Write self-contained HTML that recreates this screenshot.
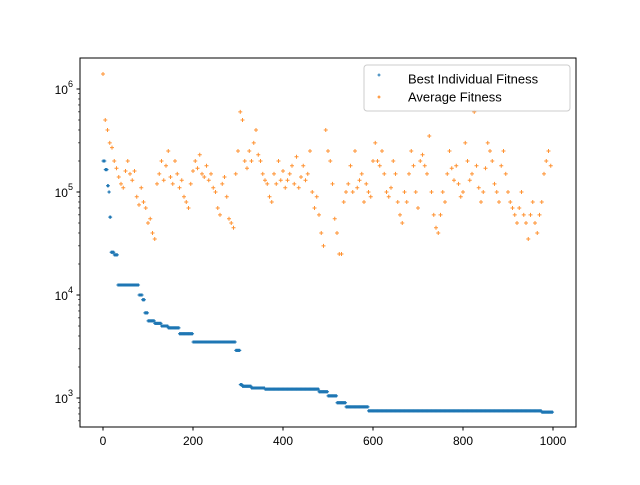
<!DOCTYPE html>
<html><head><meta charset="utf-8"><style>
body{margin:0;background:#fff}
svg text{font-family:"Liberation Sans","DejaVu Sans",sans-serif}
</style></head><body>
<svg id="chart" width="640" height="480" viewBox="0 0 640 480" xmlns="http://www.w3.org/2000/svg">
<rect width="640" height="480" fill="#fff"/>
<g id="marks"></g>
<g id="axes"></g>
<g id="legend">
<rect x="364" y="65" width="206" height="46" rx="3" fill="#fff" fill-opacity="0.8" stroke="#ccc"/>
<path d="M377.5,75h3M379,73.5v3" stroke="#1f77b4"/>
<text x="408" y="80" font-size="13" style="fill:#000" dominant-baseline="middle">Best Individual Fitness</text>
<path d="M377.5,97h3M379,95.5v3" stroke="#ff7f0e"/>
<text x="408" y="98" font-size="13" style="fill:#000" dominant-baseline="middle">Average Fitness</text>
</g>
</svg>
<script>
const stepStarts=[0,5,10,13,15,18,25,33,80,88,93,100,115,130,145,170,200,295,305,310,330,360,480,500,520,540,590,975];
const stepValues=[200000,165000,115000,100000,57000,26000,24500,12500,10000,9000,6700,5600,5300,5000,4800,4200,3500,2900,1350,1300,1250,1220,1150,1050,900,820,750,730];
const avgStep=5;
const avgValues=[1400,500,400,300,270,200,170,140,120,110,160,200,150,130,160,90,75,110,80,70,50,55,40,35,120,150,200,130,180,250,140,120,200,150,110,130,90,80,70,120,160,200,170,230,150,140,180,130,150,110,100,70,60,120,140,90,55,50,45,150,250,600,500,200,170,250,200,300,400,230,200,150,130,120,90,80,150,120,200,130,160,110,130,150,180,120,220,110,140,180,130,150,250,100,70,90,60,40,30,400,250,200,120,55,40,25,25,80,100,120,180,100,250,110,130,150,80,120,100,90,200,300,200,180,250,150,100,90,110,200,150,80,60,50,100,80,150,250,180,100,70,200,230,180,150,350,100,60,45,40,60,100,80,150,250,170,130,180,120,90,100,300,200,130,150,600,180,110,80,100,170,300,250,200,120,100,80,180,250,150,100,80,70,60,50,70,100,60,50,35,60,80,50,40,60,80,150,200,250,180];
const xTicks=[0,200,400,600,800,1000];
const yTickExps=[3,4,5,6];
const NS='http://www.w3.org/2000/svg';
const L=80,R=576,T=58,B=427;
const X=v=>103+0.45*v;
const Y=v=>398-103*(Math.log10(v)-3);
const marks=document.getElementById('marks'),axes=document.getElementById('axes');
function mk(tag,attrs,parent){const e=document.createElementNS(NS,tag);for(const k in attrs)e.setAttribute(k,attrs[k]);parent.appendChild(e);return e;}
function plus(x,y,c,g,s){return mk('path',{d:`M${x-s},${y}h${2*s}M${x},${y-s}v${2*s}`,stroke:c,'stroke-width':1},g);}
const gb=mk('g',{},marks);


for(let i=0;i<stepStarts.length;i++){
  const end=i+1<stepStarts.length?stepStarts[i+1]:1000;
  for(let g=stepStarts[i];g<end;g++){
    const p=plus(X(g),Y(stepValues[i]),'#1f77b4',gb,1.5);
    
    
  }
}
const ga=mk('g',{},marks);


avgValues.forEach((v,i)=>{
  const p=plus(X(i*avgStep),Y(v*1000),'#ff7f0e',ga,2);
  p.setAttribute('opacity','0.85');
  
  
});
const fr=mk('rect',{x:L,y:T,width:R-L,height:B-T,fill:'none',stroke:'#000','stroke-width':1},axes);


xTicks.forEach(t=>{
  const x=X(t);
  mk('line',{x1:x,x2:x,y1:B,y2:B+3.5,stroke:'#000'},axes);
  const tx=mk('text',{x:x,y:B+18,'font-size':12,'text-anchor':'middle',style:'fill:#000'},axes);
  tx.textContent=t;
  
  
});
yTickExps.forEach(e=>{
  const y=Y(Math.pow(10,e));
  mk('line',{x1:L-3.5,x2:L,y1:y,y2:y,stroke:'#000'},axes);
  const tx=mk('text',{x:L-7,y:y+5,'font-size':12,'text-anchor':'end',style:'fill:#000'},axes);
  tx.innerHTML='10<tspan dy="-7" font-size="9">'+e+'</tspan>';
  
  
});
for(let e=2;e<=6;e++)for(let m=2;m<=9;m++){
  const y=Y(m*Math.pow(10,e));
  if(y<T||y>B)continue;
  mk('line',{x1:L-2,x2:L,y1:y,y2:y,stroke:'#000','stroke-width':0.6},axes);
}
</script>
</body></html>
